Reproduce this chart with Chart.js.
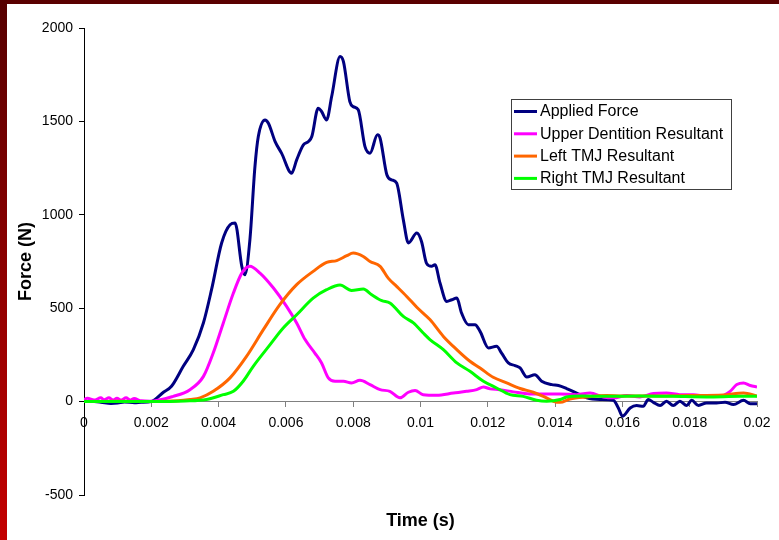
<!DOCTYPE html>
<html>
<head>
<meta charset="utf-8">
<script src="https://cdn.jsdelivr.net/npm/chart.js@4.4.1/dist/chart.umd.min.js"></script>
<style>
  html, body { margin: 0; padding: 0; background: #ffffff; }
  canvas { display: block; }
</style>
</head>
<body>
<canvas id="c" width="779" height="540"></canvas>
<script>
// ---- Data (time in seconds, force in N) ----
const seriesLabels = ["Applied Force", "Upper Dentition Resultant", "Left TMJ Resultant", "Right TMJ Resultant"];
const seriesColors = ["#000080", "#ff00ff", "#ff6600", "#00ff00"];

const afT = [0,0.0003,0.0005,0.0008,0.0010,0.0012,0.0015,0.0017,0.0020,0.00236,0.0026,0.00295,0.00325,0.00355,0.00379,0.00409,0.00434,0.00449,0.00469,0.00478,0.00493,0.00508,0.00518,0.00538,0.00548,0.00568,0.00587,0.00617,0.00632,0.00652,0.00667,0.00677,0.00696,0.00706,0.00721,0.00736,0.00761,0.00771,0.00790,0.00800,0.00815,0.00835,0.00850,0.00872,0.00880,0.00900,0.00914,0.00929,0.00949,0.00964,0.00989,0.01003,0.01018,0.01033,0.01043,0.01058,0.01078,0.01093,0.01108,0.01122,0.01142,0.01162,0.01177,0.01202,0.01226,0.01241,0.01261,0.01281,0.01296,0.01316,0.01340,0.01360,0.01390,0.01410,0.01434,0.01464,0.01494,0.01533,0.01573,0.01588,0.01600,0.01623,0.01642,0.01662,0.01677,0.01692,0.01712,0.01731,0.01751,0.01771,0.01791,0.01806,0.01826,0.01850,0.01880,0.01905,0.01930,0.01960,0.01980,0.02000];
const afV = [0,0,-3,-10,-8,-2,-6,-4,0,50,82,189,278,422,599,849,947,956,724,679,866,1258,1419,1508,1490,1392,1330,1223,1294,1374,1392,1419,1571,1553,1508,1633,1847,1820,1606,1579,1562,1365,1330,1428,1410,1214,1187,1170,973,849,902,857,740,724,733,635,536,545,554,474,412,412,376,287,296,260,207,193,180,132,144,109,91,86,70,46,20,11,7,-34,-78,-34,-21,-25,11,-4,-21,2,-21,2,-21,7,-21,-7,-7,-4,-16,7,-11,-11];

const udT = [0,0.0001,0.0003,0.0005,0.0006,0.00074,0.00086,0.00098,0.0011,0.00125,0.00137,0.00149,0.0017,0.00196,0.00265,0.00315,0.00355,0.00384,0.00414,0.00444,0.00469,0.00493,0.00523,0.00563,0.00602,0.00632,0.00657,0.00686,0.00706,0.00726,0.00746,0.00771,0.00795,0.00820,0.00850,0.00880,0.00909,0.00939,0.00964,0.00984,0.01008,0.01048,0.01098,0.01137,0.01167,0.01187,0.01207,0.01236,0.01276,0.01325,0.01375,0.01415,0.01464,0.01504,0.01543,0.01573,0.01613,0.01652,0.01692,0.01731,0.01771,0.01811,0.01850,0.01890,0.01920,0.01940,0.01960,0.01980,0.02000];
const udV = [10,18,8,20,10,20,8,18,8,20,8,16,4,2,28,64,135,260,421,581,688,724,688,608,510,421,332,260,207,127,109,109,100,114,91,64,55,20,50,59,37,34,46,55,64,78,68,64,52,41,41,41,37,46,25,20,32,25,43,46,37,37,28,28,55,91,100,86,78];

const ltT = [0,0.0010,0.0020,0.0028,0.00315,0.00345,0.00384,0.00434,0.00483,0.00533,0.00582,0.00632,0.00681,0.00721,0.00751,0.00781,0.00800,0.00830,0.00850,0.00880,0.00904,0.00929,0.00959,0.00989,0.01028,0.01068,0.01108,0.01147,0.01177,0.01216,0.01256,0.01296,0.01335,0.01365,0.01395,0.01415,0.01444,0.01494,0.01553,0.01600,0.01700,0.01800,0.01900,0.01960,0.02000];
const ltV = [0,2,0,4,11,20,55,127,242,385,519,626,697,745,755,781,795,777,750,724,661,617,563,505,439,349,278,216,180,130,100,70,50,28,2,-4,14,25,32,30,30,32,35,46,30];

const rtT = [0,0.0010,0.0020,0.0030,0.00364,0.00414,0.00444,0.00473,0.00503,0.00553,0.00592,0.00632,0.00681,0.00721,0.00761,0.00795,0.00830,0.00855,0.00885,0.00909,0.00949,0.00979,0.01008,0.01028,0.01068,0.01108,0.01147,0.01187,0.01226,0.01266,0.01305,0.01345,0.01375,0.01415,0.01434,0.01480,0.01550,0.01650,0.01750,0.01850,0.01950,0.02000];
const rtV = [0,0,0,3,11,37,55,109,189,305,394,465,554,599,624,595,603,572,540,528,456,421,367,332,278,207,162,109,73,37,28,7,2,11,25,30,28,30,28,25,28,28];

const xTitle = "Time (s)";
const yTitle = "Force (N)";
const xMin = 0, xMax = 0.02, xStep = 0.002;
const yMin = -500, yMax = 2000, yStep = 500;

// ---- Build datasets ----
function pts(ts, vs) { return ts.map((t, i) => ({ x: t, y: vs[i] })); }
const seriesData = [pts(afT, afV), pts(udT, udV), pts(ltT, ltV), pts(rtT, rtV)];
const FONT = "'Liberation Sans', Arial, Helvetica, sans-serif";

const datasets = seriesData.map((d, i) => ({
  label: seriesLabels[i],
  data: d,
  borderColor: seriesColors[i],
  backgroundColor: seriesColors[i],
  borderWidth: 3,
  pointRadius: 0,
  fill: false,
  cubicInterpolationMode: 'monotone',
  order: 4 - i
}));

const bgPlugin = {
  id: 'bg',
  beforeDraw(chart) {
    const ctx = chart.ctx;
    ctx.save();
    ctx.fillStyle = '#ffffff';
    ctx.fillRect(0, 0, chart.width, chart.height);
    ctx.fillStyle = '#5a0000';
    ctx.fillRect(0, 0, chart.width, 4);
    const g = ctx.createLinearGradient(0, 0, 0, chart.height);
    g.addColorStop(0, '#560000');
    g.addColorStop(1, '#c40000');
    ctx.fillStyle = g;
    ctx.fillRect(0, 0, 7, chart.height);
    ctx.restore();
  }
};

const extrasPlugin = {
  id: 'extras',
  afterDraw(chart) {
    const ctx = chart.ctx;
    const ca = chart.chartArea;
    ctx.save();
    // x-axis title
    ctx.fillStyle = '#000';
    ctx.font = "bold 18px " + FONT;
    ctx.textAlign = 'center';
    ctx.textBaseline = 'middle';
    ctx.fillText(xTitle, (ca.left + ca.right) / 2, 521);
    // legend
    const lx = 511, ly = 99, lw = 220, lh = 90;
    ctx.fillStyle = '#ffffff';
    ctx.fillRect(lx, ly, lw, lh);
    ctx.strokeStyle = '#404040';
    ctx.lineWidth = 1;
    ctx.strokeRect(lx + 0.5, ly + 0.5, lw, lh);
    ctx.font = "16px " + FONT;
    ctx.textAlign = 'left';
    chart.data.datasets.forEach((ds, i) => {
      const y = 111.5 + i * 22.3;
      ctx.strokeStyle = ds.borderColor;
      ctx.lineWidth = 3;
      ctx.beginPath();
      ctx.moveTo(514, y);
      ctx.lineTo(537, y);
      ctx.stroke();
      ctx.fillStyle = '#000';
      ctx.fillText(ds.label, 540, y + 0.5);
    });
    ctx.restore();
  }
};

new Chart(document.getElementById('c'), {
  type: 'line',
  data: { datasets },
  plugins: [bgPlugin, extrasPlugin],
  options: {
    responsive: false,
    animation: false,
    devicePixelRatio: 1,
    layout: { padding: { left: 8, right: 22, top: 28, bottom: 45 } },
    plugins: { legend: { display: false }, tooltip: { enabled: false } },
    scales: {
      x: {
        type: 'linear',
        min: xMin, max: xMax,
        position: { y: 0 },
        afterFit(s) { s.height = 0; },
        grid: { display: true, drawOnChartArea: false, drawTicks: true, tickLength: 5, color: '#808080' },
        border: { display: true, color: '#808080', width: 1 },
        ticks: {
          stepSize: xStep,
          maxRotation: 0,
          autoSkip: false,
          padding: 8,
          color: '#000',
          font: { family: FONT, size: 14 },
          callback: (v) => String(Number(Number(v).toFixed(4)))
        }
      },
      y: {
        type: 'linear',
        min: yMin, max: yMax,
        position: 'left',
        afterFit(s) { s.width = 76; },
        grid: { display: true, drawOnChartArea: false, drawTicks: true, tickLength: 5, color: '#000' },
        border: { display: true, color: '#000', width: 1 },
        ticks: {
          stepSize: yStep,
          padding: 6,
          color: '#000',
          font: { family: FONT, size: 14 },
          callback: (v) => String(v)
        },
        title: {
          display: true,
          text: yTitle,
          color: '#000',
          font: { family: FONT, size: 18, weight: 'bold' },
          padding: { top: 7, bottom: 0 }
        }
      }
    }
  }
});
</script>
</body>
</html>
